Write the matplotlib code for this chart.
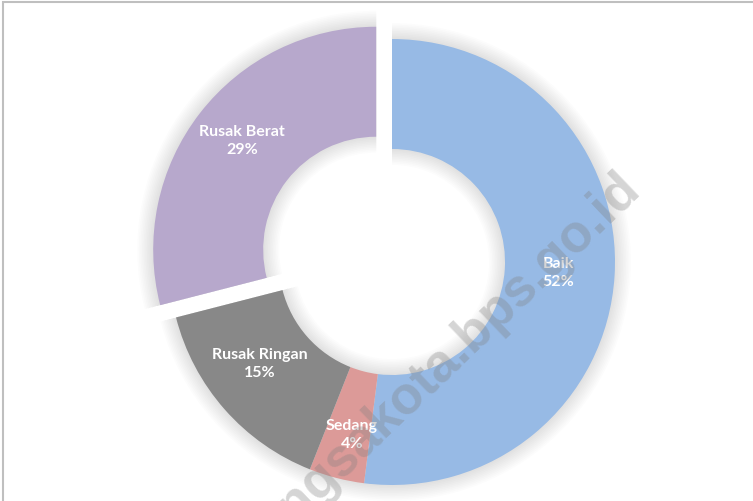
import matplotlib.pyplot as plt
from matplotlib.patches import Rectangle

labels = ['Baik', 'Sedang', 'Rusak Ringan', 'Rusak Berat']
values = [52, 4, 15, 29]
colors = ['#97BAE5', '#DC9A98', '#888888', '#B7A8CC']

W, H = 753, 502
cx, cy = 392, H - 263
R = 223
ring = 110
explode = [0, 0, 0, 20]   # pie() uses data units here

fig = plt.figure(figsize=(W / 100, H / 100), dpi=100)
ax = fig.add_axes([0, 0, 1, 1])

# soft shadow under the ring
for k in range(10, 0, -1):
    ax.pie(values, radius=R + k * 1.6, startangle=90, counterclock=False,
           center=(cx, cy), explode=explode, colors=['black'] * 4,
           wedgeprops=dict(width=ring + k * 3.2, alpha=0.012, linewidth=0))

ax.pie(values, radius=R, startangle=90, counterclock=False,
       center=(cx, cy), explode=explode, colors=colors,
       wedgeprops=dict(width=ring, linewidth=0))

# data labels
label_pos = [(558, 273), (352, 435), (260, 364), (242, 141)]
for lab, v, (x, y) in zip(labels, values, label_pos):
    ax.text(x, H - y, '%s\n%d%%' % (lab, v), ha='center', va='center',
            color='white', fontsize=11.5, fontweight='bold', family='Lato',
            linespacing=1.4, zorder=5)

# watermark
ax.text(443, H - 362, 'langsakota.bps.go.id', rotation=43.7, ha='center',
        va='center', rotation_mode='anchor', fontsize=38, fontweight='bold',
        family='Liberation Sans', color='#808080', alpha=0.33, zorder=6)

# border
ax.add_patch(Rectangle((3, -20), W + 20, H - 3 + 20, fill=False,
                       edgecolor='#BFBFBF', linewidth=1.5, zorder=7))

ax.set_xlim(0, W)
ax.set_ylim(0, H)
ax.set_aspect('auto')
ax.axis('off')
fig.savefig('out.png', dpi=100)
